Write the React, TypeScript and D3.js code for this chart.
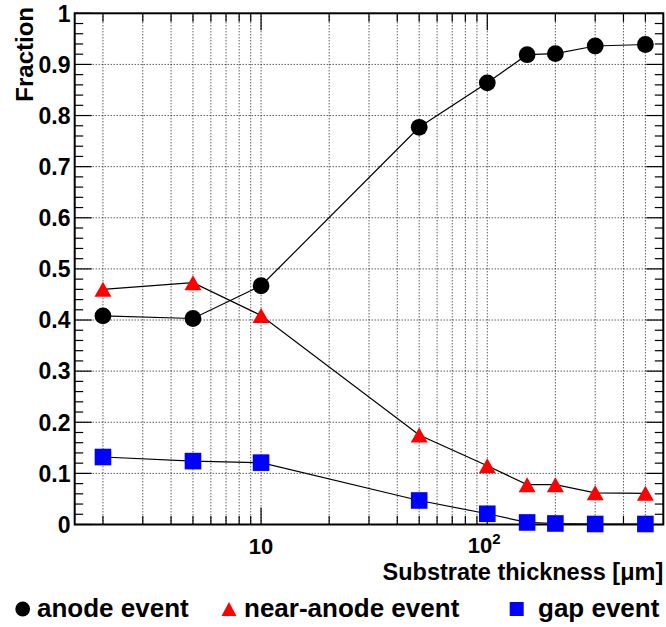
import { useEffect, useRef } from 'react'
import * as d3 from 'd3'

const thickness = [2, 5, 10, 50, 100, 150, 200, 300, 500]
const anodeEvent = [0.408, 0.403, 0.467, 0.777, 0.864, 0.919, 0.921, 0.936, 0.939]
const nearAnodeEvent = [0.46, 0.473, 0.409, 0.175, 0.115, 0.078, 0.078, 0.062, 0.061]
const gapEvent = [0.132, 0.124, 0.121, 0.047, 0.021, 0.004, 0.002, 0.001, 0.001]

const yTicks = [0, 0.1, 0.2, 0.3, 0.4, 0.5, 0.6, 0.7, 0.8, 0.9, 1]
const yTickLabels = ['0', '0.1', '0.2', '0.3', '0.4', '0.5', '0.6', '0.7', '0.8', '0.9', '1']
const xMinorTicks = [2, 3, 4, 5, 6, 7, 8, 9, 20, 30, 40, 50, 60, 70, 80, 90, 200, 300, 400, 500]
const xMajorTicks = [10, 100]

const FONT = '"Liberation Sans", Arial, Helvetica, sans-serif'

function App() {
    const ref = useRef<SVGSVGElement>(null)

    useEffect(() => {
        const width = 666
        const height = 627
        const left = 74.7
        const right = 663.3
        const top = 13.3
        const bottom = 524.5

        const x = d3.scaleLog().domain([1.5, 600]).range([left, right])
        const y = d3.scaleLinear().domain([0, 1]).range([bottom, top])

        const svg = d3.select(ref.current)
        svg.selectAll('*').remove()
        svg.attr('width', width).attr('height', height)

        // grid
        const grid = svg.append('g')
            .attr('stroke', '#111')
            .attr('stroke-width', 1)
            .attr('stroke-dasharray', '1 2')
        grid.selectAll('line.gx')
            .data([...xMinorTicks, ...xMajorTicks])
            .join('line')
            .attr('x1', d => x(d)).attr('x2', d => x(d))
            .attr('y1', top).attr('y2', bottom)
        grid.selectAll('line.gy')
            .data(yTicks.slice(1, -1))
            .join('line')
            .attr('class', 'gy')
            .attr('x1', left).attr('x2', right)
            .attr('y1', d => y(d)).attr('y2', d => y(d))

        // ticks
        const ticks = svg.append('g').attr('stroke', '#000').attr('stroke-width', 1.2)
        const yMinor = d3.range(0, 1.0001, 0.02)
        ticks.selectAll('line.ly')
            .data(yMinor)
            .join('line')
            .attr('x1', left)
            .attr('x2', (d, i) => left + (i % 5 === 0 ? 17 : 8.5))
            .attr('y1', d => y(d)).attr('y2', d => y(d))
        ticks.selectAll('line.ry')
            .data(yMinor)
            .join('line')
            .attr('class', 'ry')
            .attr('x1', right)
            .attr('x2', (d, i) => right - (i % 5 === 0 ? 17 : 8.5))
            .attr('y1', d => y(d)).attr('y2', d => y(d))
        const xAll = [...xMinorTicks.map(v => ({ v, len: 8.5 })), ...xMajorTicks.map(v => ({ v, len: 17 }))]
        ticks.selectAll('line.bx')
            .data(xAll)
            .join('line')
            .attr('class', 'bx')
            .attr('x1', d => x(d.v)).attr('x2', d => x(d.v))
            .attr('y1', bottom).attr('y2', d => bottom - d.len)
        ticks.selectAll('line.tx')
            .data(xAll)
            .join('line')
            .attr('class', 'tx')
            .attr('x1', d => x(d.v)).attr('x2', d => x(d.v))
            .attr('y1', top).attr('y2', d => top + d.len)

        // frame
        svg.append('rect')
            .attr('x', left).attr('y', top)
            .attr('width', right - left).attr('height', bottom - top)
            .attr('fill', 'none').attr('stroke', '#000').attr('stroke-width', 2)

        // y tick labels
        svg.append('g')
            .selectAll('text')
            .data(yTicks)
            .join('text')
            .attr('x', 70.5)
            .attr('y', d => y(d))
            .attr('dy', '0.36em')
            .attr('text-anchor', 'end')
            .attr('font-family', FONT)
            .attr('font-weight', 'bold')
            .attr('font-size', 23)
            .text((d, i) => yTickLabels[i])

        // x tick labels
        const xl = svg.append('g')
            .attr('font-family', FONT)
            .attr('font-weight', 'bold')
            .attr('font-size', 22)
        xl.append('text')
            .attr('x', x(10)).attr('y', 554)
            .attr('text-anchor', 'middle')
            .text('10')
        const t100 = xl.append('text')
            .attr('x', x(100) - 3).attr('y', 553)
            .attr('text-anchor', 'middle')
        t100.append('tspan').text('10')
        t100.append('tspan').attr('font-size', 15).attr('dy', -9).text('2')

        // axis titles
        svg.append('text')
            .attr('x', right).attr('y', 580)
            .attr('text-anchor', 'end')
            .attr('font-family', FONT)
            .attr('font-weight', 'bold')
            .attr('font-size', 23.5)
            .text('Substrate thickness [μm]')
        svg.append('text')
            .attr('transform', 'translate(33,7) rotate(-90)')
            .attr('text-anchor', 'end')
            .attr('font-family', FONT)
            .attr('font-weight', 'bold')
            .attr('font-size', 24)
            .text('Fraction')

        // series
        const line = d3.line<number>()
            .x((d, i) => x(thickness[i]))
            .y(d => y(d))
        const series = [anodeEvent, nearAnodeEvent, gapEvent]
        series.forEach(s => {
            svg.append('path')
                .datum(s)
                .attr('d', line)
                .attr('fill', 'none')
                .attr('stroke', '#000')
                .attr('stroke-width', 1.2)
        })

        const tri = (cx: number, cy: number, w: number, h: number) =>
            `M${cx - w / 2},${cy + h / 2}L${cx + w / 2},${cy + h / 2}L${cx},${cy - h / 2}Z`

        svg.append('g')
            .selectAll('circle')
            .data(anodeEvent)
            .join('circle')
            .attr('cx', (d, i) => x(thickness[i]))
            .attr('cy', d => y(d))
            .attr('r', 8.4)
            .attr('fill', '#000')
        svg.append('g')
            .selectAll('path')
            .data(nearAnodeEvent)
            .join('path')
            .attr('d', (d, i) => tri(x(thickness[i]), y(d), 17, 15))
            .attr('fill', '#ff0000')
        svg.append('g')
            .selectAll('rect')
            .data(gapEvent)
            .join('rect')
            .attr('x', (d, i) => x(thickness[i]) - 8.3)
            .attr('y', d => y(d) - 8.3)
            .attr('width', 16.6)
            .attr('height', 16.6)
            .attr('fill', '#0000ff')

        // legend
        const lg = svg.append('g')
            .attr('font-family', FONT)
            .attr('font-weight', 'bold')
            .attr('font-size', 26)
        lg.append('circle').attr('cx', 22.7).attr('cy', 609).attr('r', 7.4).attr('fill', '#000')
        lg.append('text').attr('x', 37).attr('y', 617).text('anode event')
        lg.append('path').attr('d', tri(229, 609, 15, 14)).attr('fill', '#ff0000')
        lg.append('text').attr('x', 244).attr('y', 617).text('near-anode event')
        lg.append('rect').attr('x', 509.7).attr('y', 602).attr('width', 14).attr('height', 14).attr('fill', '#0000ff')
        lg.append('text').attr('x', 538).attr('y', 617).text('gap event')
    }, [])

    return (
        <svg
            ref={ref}
            style={{ position: 'absolute', left: 0, top: 0 }}
            width={666}
            height={627}
        />
    )
}

export default App
